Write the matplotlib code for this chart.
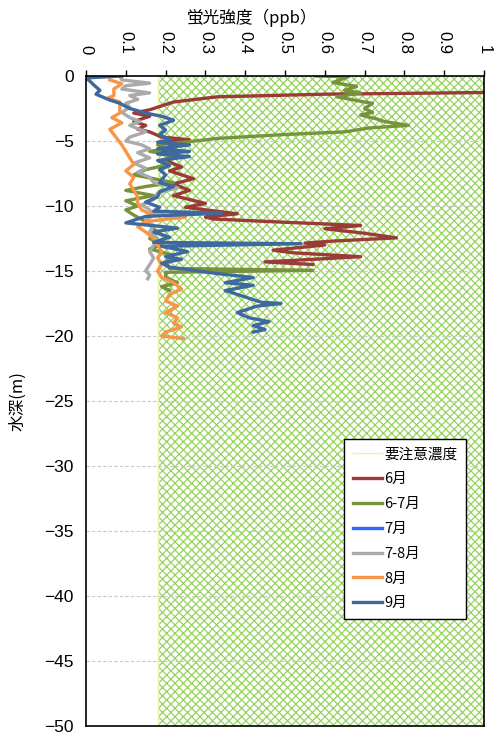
import matplotlib.pyplot as plt

plt.rcParams['font.family'] = ['Liberation Sans', 'Noto Sans CJK JP', 'DejaVu Sans']
plt.rcParams['hatch.linewidth'] = 0.9
plt.rcParams['axes.unicode_minus'] = True

CJK = ['Noto Sans CJK JP', 'DejaVu Sans']

# threshold for 要注意濃度
caution_level = 0.18

# 6月 (value ppb, depth m)
jun_val = [1.6, 1.6, 1.0, 0.6, 0.33, 0.22, 0.16, 0.12, 0.16, 0.12, 0.15, 0.13, 0.16, 0.19, 0.26,
           0.2, 0.22, 0.19, 0.23, 0.2, 0.24, 0.21, 0.27, 0.22, 0.26, 0.22, 0.3, 0.25, 0.38, 0.3,
           0.32, 0.5, 0.69, 0.6, 0.7, 0.78, 0.62, 0.55, 0.6, 0.47, 0.52, 0.69, 0.45, 0.57]
jun_dep = [-0.15, -1.2, -1.27, -1.4, -1.6, -2.0, -2.6, -2.85, -3.1, -3.5, -3.8, -4.1, -4.3, -4.7, -4.9,
           -5.1, -5.5, -5.9, -6.2, -6.5, -7.0, -7.3, -7.9, -8.3, -8.8, -9.2, -9.8, -10.1, -10.6, -10.85,
           -11.0, -11.25, -11.5, -11.75, -12.1, -12.45, -12.7, -12.85, -13.0, -13.4, -13.6, -13.9, -14.3, -14.5]

# 6-7月
junjul_val = [0.58, 0.66, 0.62, 0.68, 0.65, 0.69, 0.63, 0.70, 0.72, 0.70, 0.72, 0.69, 0.73, 0.75, 0.81,
              0.71, 0.65, 0.50, 0.33, 0.26, 0.18, 0.2, 0.16, 0.22, 0.19, 0.21, 0.15, 0.12, 0.17, 0.22,
              0.15, 0.1, 0.17, 0.1, 0.13, 0.1, 0.12, 0.15, 0.18, 0.16, 0.19, 0.16, 0.22, 0.2, 0.21,
              0.57, 0.2, 0.2, 0.23, 0.19, 0.21]
junjul_dep = [0.0, -0.05, -0.5, -0.8, -1.1, -1.3, -1.6, -2.0, -2.1, -2.5, -2.8, -3.0, -3.3, -3.5, -3.8,
              -4.0, -4.3, -4.5, -4.8, -5.05, -5.3, -5.6, -5.8, -6.1, -6.5, -6.8, -7.2, -7.6, -7.9, -8.2,
              -8.5, -8.8, -9.2, -9.6, -10.0, -10.3, -10.7, -11.2, -12.0, -12.5, -13.0, -13.3, -13.8, -14.3, -14.8,
              -14.95, -15.1, -15.5, -15.9, -16.2, -16.5]

# 7月 (no profile drawn)
jul_val = []
jul_dep = []

# 7-8月
julaug_val = [0.085, 0.09, 0.16, 0.1, 0.09, 0.16, 0.11, 0.13, 0.1, 0.11, 0.09, 0.11, 0.135, 0.11, 0.15,
              0.11, 0.1, 0.14, 0.16, 0.13, 0.16, 0.12, 0.15, 0.13, 0.16, 0.17, 0.23, 0.18, 0.17, 0.14,
              0.16, 0.17, 0.15, 0.17, 0.16, 0.18, 0.17, 0.16, 0.17, 0.16, 0.15, 0.16, 0.155]
julaug_dep = [0.0, -0.3, -0.55, -0.75, -1.0, -1.3, -1.5, -1.8, -2.1, -2.4, -2.8, -3.2, -3.5, -3.8, -4.3,
              -4.7, -5.0, -5.3, -5.6, -5.9, -6.3, -6.7, -7.1, -7.4, -7.8, -8.2, -8.6, -9.0, -9.5, -9.9,
              -10.3, -10.7, -11.1, -11.5, -12.0, -12.5, -13.0, -13.5, -14.0, -14.5, -15.0, -15.3, -15.6]

# 8月
aug_val = [0.06, 0.09, 0.07, 0.07, 0.055, 0.085, 0.085, 0.085, 0.065, 0.09, 0.06, 0.07, 0.08, 0.09, 0.1,
           0.11, 0.12, 0.1, 0.12, 0.11, 0.12, 0.13, 0.13, 0.14, 0.16, 0.25, 0.15, 0.13, 0.15, 0.17,
           0.18, 0.19, 0.18, 0.19, 0.18, 0.19, 0.22, 0.24, 0.21, 0.2, 0.23, 0.2, 0.23, 0.22, 0.24,
           0.2, 0.19, 0.245]
aug_dep = [-0.3, -0.6, -1.0, -1.5, -1.7, -2.0, -2.4, -2.85, -3.2, -3.6, -4.1, -4.5, -4.9, -5.3, -5.8,
           -6.3, -6.8, -7.3, -7.8, -8.3, -8.8, -9.3, -9.8, -10.3, -10.6, -10.85, -11.2, -11.6, -12.0, -12.5,
           -13.0, -13.5, -14.0, -14.5, -15.0, -15.5, -15.9, -16.4, -16.8, -17.3, -17.7, -18.2, -18.6, -19.0, -19.3,
           -19.7, -20.0, -20.2]

# 9月
sep_val = [0.09, 0.0, 0.01, 0.02, 0.035, 0.025, 0.06, 0.085, 0.11, 0.15, 0.19, 0.22, 0.185, 0.2, 0.185,
           0.21, 0.18, 0.26, 0.18, 0.26, 0.18, 0.26, 0.18, 0.21, 0.185, 0.2, 0.185, 0.22, 0.185, 0.18,
           0.15, 0.185, 0.17, 0.34, 0.15, 0.1, 0.23, 0.17, 0.21, 0.17, 0.54, 0.19, 0.255, 0.2, 0.24,
           0.19, 0.21, 0.27, 0.33, 0.42, 0.35, 0.42, 0.35, 0.38, 0.41, 0.44, 0.49, 0.43, 0.38, 0.41,
           0.46, 0.42, 0.45, 0.42]
sep_dep = [0.0, -0.15, -0.4, -0.7, -1.1, -1.4, -1.85, -2.1, -2.5, -2.85, -3.1, -3.4, -3.8, -4.15, -4.5,
           -4.9, -5.1, -5.3, -5.6, -5.8, -6.0, -6.2, -6.5, -6.9, -7.2, -7.6, -8.2, -8.5, -8.9, -9.3,
           -9.7, -10.1, -10.4, -10.55, -10.8, -11.3, -11.7, -12.0, -12.4, -12.8, -12.9, -13.1, -13.5, -13.9, -14.1,
           -14.4, -14.7, -14.95, -15.2, -15.5, -15.9, -16.1, -16.5, -16.8, -17.1, -17.4, -17.5, -17.7, -18.2, -18.6,
           -18.9, -19.2, -19.5, -19.7]

series = [
    ('6月', jun_val, jun_dep, '#9A3B38'),
    ('6-7月', junjul_val, junjul_dep, '#77933C'),
    ('7月', jul_val, jul_dep, '#3366FF'),
    ('7-8月', julaug_val, julaug_dep, '#AAAAAA'),
    ('8月', aug_val, aug_dep, '#F79646'),
    ('9月', sep_val, sep_dep, '#3D69A0'),
]

fig = plt.figure(figsize=(4.94, 7.37), dpi=100)
ax = fig.add_axes([86 / 494, 1 - 726 / 737, 398 / 494, 650 / 737])

ax.set_xlim(0, 1)
ax.set_ylim(-50, 0)

# caution zone: hatched from threshold to the right edge
ax.fill_betweenx([-50, 0], caution_level, 1, facecolor='white', edgecolor='#96D35C',
                 hatch='xxxx', linewidth=0, zorder=1)
ax.plot([caution_level, caution_level], [-50, 0], color='#E4F5A8', lw=1, zorder=2,
        label='要注意濃度')

for d in range(-45, 0, 5):
    ax.axhline(d, color='#C8C8C8', lw=0.8, ls=(0, (3, 2)), zorder=2)

for name, vals, deps, col in series:
    ax.plot(vals, deps, color=col, lw=2.4, label=name, zorder=3, solid_joinstyle='round')

ax.xaxis.tick_top()
ax.set_xticks([0, 0.1, 0.2, 0.3, 0.4, 0.5, 0.6, 0.7, 0.8, 0.9, 1])
ax.set_xticklabels(['0', '0.1', '0.2', '0.3', '0.4', '0.5', '0.6', '0.7', '0.8', '0.9', '1'],
                   rotation=-90, fontsize=12)
ax.set_yticks(range(-50, 1, 5))
ax.tick_params(axis='x', direction='out', length=4, width=1, pad=12)
ax.tick_params(axis='y', direction='out', length=0, pad=9, labelsize=12.5)
for sp in ax.spines.values():
    sp.set_linewidth(1.2)
    sp.set_color('black')
    sp.set_zorder(5)

fig.text(252 / 494, 1 - 18 / 737, '蛍光強度（ppb）', family=CJK, fontsize=12,
         ha='center', va='center')
fig.text(18 / 494, 1 - 401 / 737, '水深(m)', family=CJK, fontsize=12,
         ha='center', va='center', rotation=90)

leg = ax.legend(loc='upper left', bbox_to_anchor=(0.63, 0.453), prop={'family': CJK, 'size': 10.5},
                frameon=True, fancybox=False, framealpha=1, edgecolor='black',
                handlelength=2.0, handletextpad=0.15, labelspacing=0.74, borderpad=0.6)
leg.get_frame().set_linewidth(1.0)
leg.set_zorder(6)

fig.savefig('out.png', dpi=100)
